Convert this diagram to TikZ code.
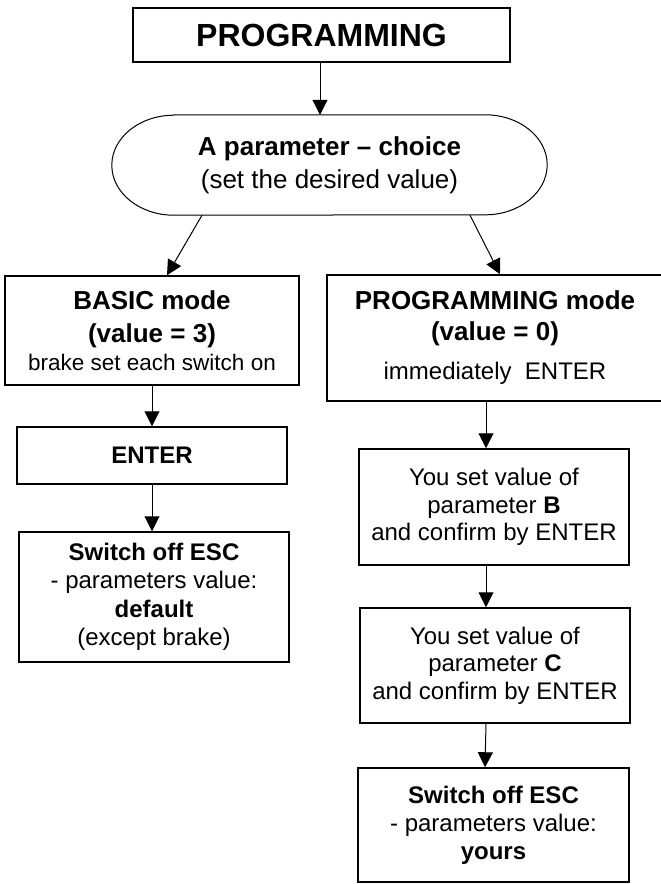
\documentclass[tikz,border=0pt]{standalone}
\usepackage{fontspec}
\setmainfont{Liberation Sans}
\usetikzlibrary{arrows.meta}

\tikzset{
  box/.style={draw,line width=1.5pt,align=center,inner sep=0pt,font=\fontsize{24}{27.5}\selectfont},
  flow/.style={line width=1pt,-{Triangle[width=15pt,length=15pt]}},
}

\begin{document}
\begin{tikzpicture}[x=1pt,y=-1pt]
\useasboundingbox (0,0) rectangle (661,884);
\node[box,minimum width=377pt,minimum height=54pt,font=\fontsize{32}{36}\selectfont\bfseries] (title) at (321.5,35) {PROGRAMMING};
\node[align=center,inner sep=0pt,minimum width=435pt,minimum height=100pt,font=\fontsize{26}{33}\selectfont] (choice) at (329.5,165) {\textbf{A parameter – choice}\\(set the desired value)};
\draw[line width=1pt] ([xshift=62pt]choice.north west) -- ([xshift=-62pt]choice.north east)
  arc[start angle=90,end angle=-90,x radius=62pt,y radius=50pt] -- ([xshift=62pt]choice.south west)
  arc[start angle=270,end angle=90,x radius=62pt,y radius=50pt] -- cycle;
\node[box,minimum width=294pt,minimum height=109pt,font=\fontsize{26}{33}\selectfont] (basic) at (152,330.5) {\textbf{BASIC mode}\\\textbf{(value = 3)}\\[-5pt]\fontsize{22.5}{28}\selectfont brake set each switch on};
\node[box,minimum width=336pt,minimum height=126pt,font=\fontsize{26}{31}\selectfont] (progmode) at (495,338) {\textbf{PROGRAMMING mode}\\\textbf{(value = 0)}\\[8pt]\fontsize{24}{27.5}\selectfont immediately\ \ ENTER};
\node[box,minimum width=270pt,minimum height=57pt] (enter) at (152,455.5) {\textbf{ENTER}};
\node[box,minimum width=270pt,minimum height=130pt,font=\fontsize{24}{28.5}\selectfont] (offdef) at (154,597) {\textbf{Switch off ESC}\\- parameters value:\\\textbf{default}\\(except brake)};
\node[box,minimum width=270pt,minimum height=116pt] (setb) at (494,507) {You set value of\\parameter \textbf{B}\\and confirm by ENTER};
\node[box,minimum width=270pt,minimum height=115pt] (setc) at (495,665.5) {You set value of\\parameter \textbf{C}\\and confirm by ENTER};
\node[box,minimum width=271pt,minimum height=114pt,font=\fontsize{24}{28}\selectfont] (offyours) at (493.5,825) {\textbf{Switch off ESC}\\- parameters value:\\\textbf{yours}};
% arrows
\draw[flow] ([xshift=-1.5pt]title.south) -- ([xshift=-9.5pt]choice.north);
\draw[flow] ([xshift=-127.5pt]choice.south) -- ([xshift=15pt]basic.north);
\draw[flow] ([xshift=140.5pt]choice.south) -- ([xshift=5pt]progmode.north);
\draw[flow] (basic) -- (enter);
\draw[flow] (enter) -- (enter |- offdef.north);
\draw[flow] ([xshift=-9pt]progmode.south) -- ([xshift=-8pt]setb.north);
\draw[flow] ([xshift=-8pt]setb.south) -- ([xshift=-9pt]setc.north);
\draw[flow] ([xshift=-9pt]setc.south) -- ([xshift=-8.5pt]offyours.north);
\end{tikzpicture}
\end{document}
